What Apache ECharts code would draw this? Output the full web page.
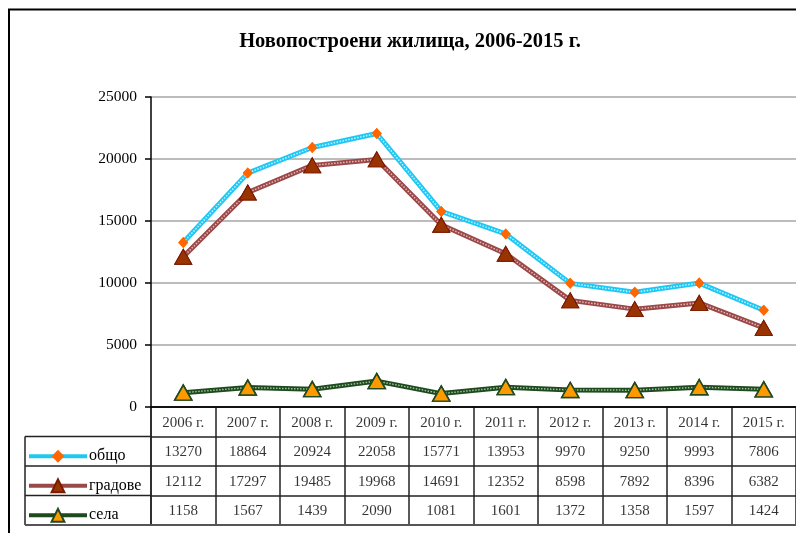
<!DOCTYPE html>
<html><head><meta charset="utf-8">
<script src="https://cdn.jsdelivr.net/npm/echarts@6/dist/echarts.min.js"></script>
<style>html,body{margin:0;padding:0;background:#fff}#c{width:796px;height:533px}</style>
</head><body><div id="c"></div>
<script>
const titleText = 'Новопостроени жилища, 2006-2015 г.';
const years = ['2006 г.','2007 г.','2008 г.','2009 г.','2010 г.','2011 г.','2012 г.','2013 г.','2014 г.','2015 г.'];
const total = [13270, 18864, 20924, 22058, 15771, 13953, 9970, 9250, 9993, 7806];
const cities = [12112, 17297, 19485, 19968, 14691, 12352, 8598, 7892, 8396, 6382];
const villages = [1158, 1567, 1439, 2090, 1081, 1601, 1372, 1358, 1597, 1424];
const seriesNames = ['общо', 'градове', 'села'];
const yMin = 0, yMax = 25000, yStep = 5000;

const FONT = '"Liberation Serif","Times New Roman",serif';
const G = {left: 151, top: 97, width: 650, height: 310};
const T = {left: 151, top: 407, width: 650, height: 118};
const rowKeys = ['hdr'].concat(seriesNames);
const values = [total, cities, villages];

const styles = [
  {base: '#1EC8F5', pat: '#C8F2FF', symbol: 'diamond', size: [10, 11], fill: '#FF6600', border: '#FF6600', bw: 0},
  {base: '#9A4848', pat: '#E6B8B8', symbol: 'triangle', size: [17, 15], fill: '#993300', border: '#7A1A00', bw: 1},
  {base: '#1E4A1E', pat: '#9CC29C', symbol: 'triangle', size: [17, 15], fill: '#FF9900', border: '#1E4A1E', bw: 1.5}
];

const series = [];
values.forEach((vals, i) => {
  const s = styles[i];
  series.push({
    name: seriesNames[i], type: 'line', data: vals, z: 2,
    symbol: s.symbol, symbolSize: s.size, showAllSymbol: true,
    lineStyle: {color: s.base, width: 5},
    itemStyle: {color: s.fill, borderColor: s.border, borderWidth: s.bw}
  });
});
values.forEach((vals, i) => {
  const s = styles[i];
  series.push({
    name: seriesNames[i] + '_pat', type: 'line', data: vals, z: 3,
    symbol: 'none', silent: true,
    lineStyle: {color: s.pat, width: 1.5, type: [1.5, 1.5]}
  });
});
values.forEach((vals, i) => {
  const s = styles[i];
  series.push({
    name: seriesNames[i] + '_mk', type: 'scatter', data: vals, z: 4,
    symbol: s.symbol, symbolSize: s.size,
    itemStyle: {color: s.fill, borderColor: s.border, borderWidth: s.bw, opacity: 1}
  });
});

// table cells
const cells = [];
years.forEach((y, c) => {
  cells.push({value: [c, 0], label: {formatter: y}});
  values.forEach((vals, r) => cells.push({value: [c, r + 1], label: {formatter: String(vals[c])}}));
});
series.push({
  type: 'scatter', xAxisIndex: 1, yAxisIndex: 1, data: cells, symbolSize: 1,
  itemStyle: {color: 'rgba(0,0,0,0)'}, silent: true,
  label: {show: true, position: 'inside', color: '#000', fontFamily: FONT, fontSize: 15, offset: [0, 1]}
});

const rowH = T.height / rowKeys.length;
const graphics = [
  {type: 'rect', shape: {x: 9, y: 9.5, width: 900, height: 700}, style: {fill: 'none', stroke: '#000', lineWidth: 2}, silent: true},
  {type: 'text', x: 410, y: 42, style: {text: titleText, font: 'bold 20.5px ' + FONT, fill: '#000', textAlign: 'center', textVerticalAlign: 'middle'}},
  {type: 'line', shape: {x1: 25, y1: T.top + rowH, x2: 25, y2: T.top + T.height}, style: {stroke: '#222', lineWidth: 1.5}}
];
for (let r = 1; r <= rowKeys.length; r++) {
  graphics.push({type: 'line', shape: {x1: 25, y1: T.top + rowH * r, x2: T.left, y2: T.top + rowH * r},
    style: {stroke: r === rowKeys.length ? '#555' : '#222', lineWidth: r === rowKeys.length ? 2 : 1.5}});
}

const chart = echarts.init(document.getElementById('c'), null, {renderer: 'canvas'});
chart.setOption({
  animation: false,
  backgroundColor: '#fff',
  graphic: graphics,
  legend: {
    orient: 'vertical', left: 27, top: T.top + rowH + (rowH - 16) / 2 + 5, padding: 0,
    itemWidth: 58, itemHeight: 16, height: 100,
    itemGap: rowH - 16, textStyle: {fontFamily: FONT, fontSize: 16, color: '#000', padding: [0, 0, 0, -3]},
    data: seriesNames.map((n, i) => ({name: n, lineStyle: {width: 4}})),
    selectedMode: false
  },
  grid: [
    {left: G.left, top: G.top, width: G.width, height: G.height},
    {left: T.left, top: T.top, width: T.width, height: T.height}
  ],
  xAxis: [
    {type: 'category', data: years, gridIndex: 0, boundaryGap: true,
     axisLine: {lineStyle: {color: '#000', width: 1.5}}, axisTick: {show: false}, axisLabel: {show: false}},
    {type: 'category', data: years, gridIndex: 1, boundaryGap: true, position: 'bottom',
     axisLine: {show: true, lineStyle: {color: '#555', width: 2}}, axisTick: {show: false}, axisLabel: {show: false},
     splitLine: {show: true, lineStyle: {color: '#222', width: 1.5}}}
  ],
  yAxis: [
    {type: 'value', gridIndex: 0, min: yMin, max: yMax, interval: yStep,
     axisLine: {show: true, lineStyle: {color: '#000', width: 1.5}},
     axisTick: {show: true, length: 6, lineStyle: {color: '#000', width: 1.5}},
     axisLabel: {color: '#000', fontFamily: FONT, fontSize: 15.5, margin: 14, formatter: v => String(v)},
     splitLine: {lineStyle: {color: '#A6A6A6', width: 1.5}}},
    {type: 'category', data: rowKeys, gridIndex: 1, inverse: true, boundaryGap: true,
     axisLine: {show: true, lineStyle: {color: '#222', width: 1.5}}, axisTick: {show: false}, axisLabel: {show: false},
     splitLine: {show: true, lineStyle: {color: '#222', width: 1.5}}}
  ],
  series: series
});
</script></body></html>
